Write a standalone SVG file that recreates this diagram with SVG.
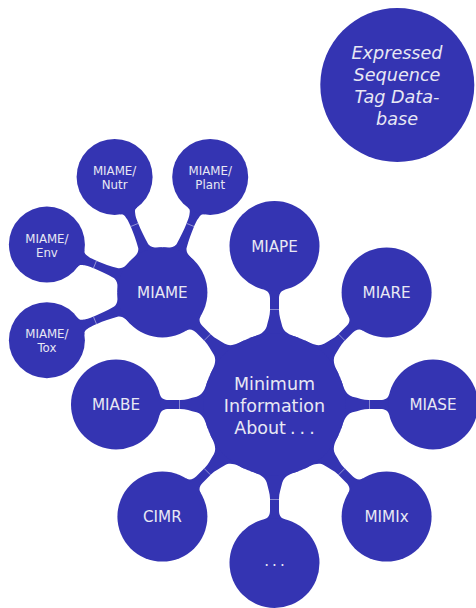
<svg xmlns="http://www.w3.org/2000/svg" width="476" height="608" viewBox="0 0 476 608">
<style>
.n{fill:#3434b2}
.t{font-family:"DejaVu Sans","Liberation Sans",sans-serif;fill:#e8e8f4;text-anchor:middle}
.l0{font-size:17.5px}
.l1{font-size:15.2px}
.l2{font-size:11.8px}
.it{font-size:17.6px;font-style:italic}
.seam{stroke:#a0a0da;stroke-width:0.8;fill:none}
</style>
<defs>
<g id="bar1">
<path class="n" d="M50,24 L66.8,24 C68.6,19 70.5,10 78,7.8 C84,6.4 89,4.5 94,4.5 L106,4.5 C110,4.5 113.7,6 114.6,10 L122,10 L122,-10 L114.6,-10 C113.7,-6 110,-4.5 106,-4.5 L94,-4.5 C89,-4.5 84,-6.4 78,-7.8 C70.5,-10 68.6,-19 66.8,-24 L50,-24 Z"/>
<line class="seam" x1="95" y1="-4.5" x2="95" y2="4.5"/>
</g>
<g id="bar2">
<path class="n" d="M30,17 L41.7,17 C43.2,13.3 44.5,7 50,5.4 C58,4.3 66,4 72,4 C78,4 81,4.3 83,5 C85.5,5.6 87.4,6.1 88.1,9 L95,9 L95,-9 L88.1,-9 C87.4,-6.1 85.5,-5.6 83,-5 C81,-4.3 78,-4 72,-4 C66,-4 58,-4.3 50,-5.4 C44.5,-7 43.2,-13.3 41.7,-17 L30,-17 Z"/>
<line class="seam" x1="73" y1="-4" x2="73" y2="4"/>
</g>
</defs>
<g id="connectors">
<use href="#bar1" transform="translate(274.5,404.5) rotate(-90)"/>
<use href="#bar1" transform="translate(274.5,404.5) rotate(-45)"/>
<use href="#bar1" transform="translate(274.5,404.5) rotate(0)"/>
<use href="#bar1" transform="translate(274.5,404.5) rotate(45)"/>
<use href="#bar1" transform="translate(274.5,404.5) rotate(90)"/>
<use href="#bar1" transform="translate(274.5,404.5) rotate(135)"/>
<use href="#bar1" transform="translate(274.5,404.5) rotate(180)"/>
<use href="#bar1" transform="translate(274.5,404.5) rotate(225)"/>
<use href="#bar2" transform="translate(162.4,292.4) rotate(157.5)"/>
<use href="#bar2" transform="translate(162.4,292.4) rotate(202.5)"/>
<use href="#bar2" transform="translate(162.4,292.4) rotate(247.5)"/>
<use href="#bar2" transform="translate(162.4,292.4) rotate(292.5)"/>
</g>
<g id="center">
<circle class="n" cx="274.5" cy="404.5" r="71"/>
<text class="t l0" word-spacing="-1.5"><tspan x="274.5" y="390">Minimum</tspan><tspan x="274.5" y="412">Information</tspan><tspan x="274.5" y="434">About . . .</tspan></text>
</g>
<g id="miape"><circle class="n" cx="274.5" cy="246" r="45"/><text class="t l1" x="274.5" y="251.5">MIAPE</text></g>
<g id="miare"><circle class="n" cx="386.6" cy="292.4" r="45"/><text class="t l1" x="386.6" y="297.9">MIARE</text></g>
<g id="miase"><circle class="n" cx="433" cy="404.5" r="45"/><text class="t l1" x="433" y="410">MIASE</text></g>
<g id="mimix"><circle class="n" cx="386.6" cy="516.6" r="45"/><text class="t l1" x="386.6" y="522.1">MIMIx</text></g>
<g id="dots"><circle class="n" cx="274.5" cy="563" r="45"/><text class="t l1" x="274.5" y="565.5" word-spacing="-1.7">. . .</text></g>
<g id="cimr"><circle class="n" cx="162.4" cy="516.6" r="45"/><text class="t l1" x="162.4" y="522.1">CIMR</text></g>
<g id="miabe"><circle class="n" cx="116" cy="404.5" r="45"/><text class="t l1" x="116" y="410">MIABE</text></g>
<g id="miame"><circle class="n" cx="162.4" cy="292.4" r="45"/><text class="t l1" x="162.4" y="297.9">MIAME</text></g>
<g id="miame-tox"><circle class="n" cx="46.9" cy="340.2" r="38"/><text class="t l2"><tspan x="46.9" y="338.2">MIAME/</tspan><tspan x="46.9" y="352.2">Tox</tspan></text></g>
<g id="miame-env"><circle class="n" cx="46.9" cy="244.6" r="38"/><text class="t l2"><tspan x="46.9" y="242.6">MIAME/</tspan><tspan x="46.9" y="256.6">Env</tspan></text></g>
<g id="miame-nutr"><circle class="n" cx="114.6" cy="176.9" r="38"/><text class="t l2"><tspan x="114.6" y="174.9">MIAME/</tspan><tspan x="114.6" y="188.9">Nutr</tspan></text></g>
<g id="miame-plant"><circle class="n" cx="210.2" cy="176.9" r="38"/><text class="t l2"><tspan x="210.2" y="174.9">MIAME/</tspan><tspan x="210.2" y="188.9">Plant</tspan></text></g>
<g id="est"><circle class="n" cx="397.3" cy="85" r="77"/><text class="t it"><tspan x="397" y="58.5">Expressed</tspan><tspan x="397" y="80.5">Sequence</tspan><tspan x="397" y="102.5">Tag Data-</tspan><tspan x="397" y="124.5">base</tspan></text></g>
</svg>
